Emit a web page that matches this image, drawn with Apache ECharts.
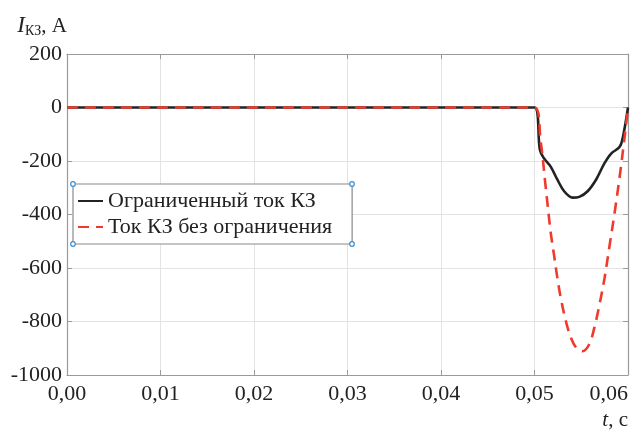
<!DOCTYPE html>
<html>
<head>
<meta charset="utf-8">
<script src="https://cdn.jsdelivr.net/npm/echarts@6/dist/echarts.min.js"></script>
<style>
html, body { margin: 0; padding: 0; background: #fff; }
#chart { width: 638px; height: 431px; }
</style>
</head>
<body>
<div id="chart"></div>
<script>
// time, s  /  current, A
var limitedT = [0, 0.0500, 0.05058, 0.05101, 0.05173, 0.05245, 0.05317, 0.05407, 0.05479, 0.05568, 0.05658, 0.05749, 0.05820, 0.05911, 0.05946, 0.0600];
var limitedI = [0, 0, -159, -190, -221, -270, -313, -337, -334, -313, -270, -208, -172, -147, -110, 0];

var fullT = [0, 0.0500, 0.05065, 0.05119, 0.05173, 0.05209, 0.05245, 0.05281, 0.05335, 0.05388, 0.05442, 0.05515, 0.05587, 0.05641, 0.05695, 0.05749, 0.05803, 0.05857, 0.05911, 0.05964, 0.0600];
var fullI = [0, 0, -123, -295, -466, -552, -638, -712, -798, -859, -896, -911, -884, -822, -737, -638, -516, -393, -258, -110, 0];

var seriesNames = ['Ограниченный ток КЗ', 'Ток КЗ без ограничения'];
var xTicks = { min: 0, max: 0.06, step: 0.01 };
var yTicks = { min: -1000, max: 200, step: 200 };

function pairs(xs, ys) {
  var out = [];
  for (var i = 0; i < xs.length; i++) out.push([xs[i], ys[i]]);
  return out;
}

var font = '"Liberation Serif", "Times New Roman", serif';
var axisGray = '#9a9a9a';
var gridGray = '#e3e3e3';
var handle = { fill: '#fff', stroke: '#3b8fd4', lineWidth: 1.2 };

var chart = echarts.init(document.getElementById('chart'));
chart.setOption({
  animation: false,
  textStyle: { fontFamily: font },
  grid: { left: 67, right: 10, top: 54, bottom: 54 },
  legend: {
    orient: 'vertical',
    left: 73, top: 184,
    padding: [6, 20, 6, 4],
    itemGap: 4,
    itemWidth: 25, itemHeight: 14,
    borderColor: '#8a8a8a', borderWidth: 1.2,
    backgroundColor: '#fff',
    itemStyle: { opacity: 0 },
    textStyle: { fontFamily: font, fontSize: 22, color: '#222' },
    data: seriesNames
  },
  xAxis: [{
    type: 'value',
    min: xTicks.min, max: xTicks.max, interval: xTicks.step,
    name: '{i|t}, с',
    nameLocation: 'end', nameGap: 0,
    nameTextStyle: {
      align: 'right', verticalAlign: 'top', padding: [35, 0, 0, 0],
      fontFamily: font, fontSize: 21, color: '#222',
      rich: { i: { fontStyle: 'italic', fontFamily: font, fontSize: 21, color: '#222' } }
    },
    axisLine: { onZero: false, lineStyle: { color: axisGray, width: 1.2 } },
    axisTick: { inside: true, length: 5, lineStyle: { color: axisGray } },
    axisLabel: {
      margin: 8, color: '#222', fontFamily: font, fontSize: 22,
      alignMaxLabel: 'right',
      formatter: function (v) { return v.toFixed(2).replace('.', ','); }
    },
    splitLine: { lineStyle: { color: gridGray, width: 1 } }
  }, {
    type: 'value', position: 'top',
    min: xTicks.min, max: xTicks.max, interval: xTicks.step,
    axisLine: { show: true, onZero: false, lineStyle: { color: axisGray, width: 1.2 } },
    axisTick: { inside: true, length: 5, lineStyle: { color: axisGray } },
    axisLabel: { show: false },
    splitLine: { show: false }
  }],
  yAxis: [{
    type: 'value',
    min: yTicks.min, max: yTicks.max, interval: yTicks.step,
    name: '{i|I}{s|КЗ}, А',
    nameLocation: 'end', nameGap: 16,
    nameTextStyle: {
      align: 'right', color: '#222', fontFamily: font, fontSize: 21,
      rich: {
        i: { fontStyle: 'italic', fontFamily: font, fontSize: 23, color: '#222' },
        s: { fontFamily: font, fontSize: 14, color: '#222', verticalAlign: 'bottom', padding: [10, 0, 0, 0] }
      }
    },
    axisLine: { show: true, onZero: false, lineStyle: { color: axisGray, width: 1.2 } },
    axisTick: { show: true, inside: true, length: 5, lineStyle: { color: axisGray } },
    axisLabel: {
      margin: 5, color: '#222', fontFamily: font, fontSize: 22,
      formatter: function (v) { return String(v); }
    },
    splitLine: { lineStyle: { color: gridGray, width: 1 } }
  }, {
    type: 'value', position: 'right',
    min: yTicks.min, max: yTicks.max, interval: yTicks.step,
    axisLine: { show: true, onZero: false, lineStyle: { color: axisGray, width: 1.2 } },
    axisTick: { show: true, inside: true, length: 5, lineStyle: { color: axisGray } },
    axisLabel: { show: false },
    splitLine: { show: false }
  }],
  series: [{
    name: seriesNames[0],
    type: 'line',
    data: pairs(limitedT, limitedI),
    showSymbol: false, symbol: 'none',
    smooth: 0.35,
    itemStyle: { color: '#222' },
    lineStyle: { color: '#222', width: 2.6 },
    z: 2
  }, {
    name: seriesNames[1],
    type: 'line',
    data: pairs(fullT, fullI),
    showSymbol: false, symbol: 'none',
    smooth: 0.35,
    itemStyle: { color: '#f03a2e' },
    lineStyle: { color: '#f03a2e', width: 2.6, type: [11, 7] },
    z: 3
  }],
  graphic: [
    // selection handles at the legend box corners
    { type: 'circle', shape: { cx: 73, cy: 184, r: 2.3 }, style: handle, z: 100 },
    { type: 'circle', shape: { cx: 352, cy: 184, r: 2.3 }, style: handle, z: 100 },
    { type: 'circle', shape: { cx: 73, cy: 244, r: 2.3 }, style: handle, z: 100 },
    { type: 'circle', shape: { cx: 352, cy: 244, r: 2.3 }, style: handle, z: 100 }
  ]
});
</script>
</body>
</html>
